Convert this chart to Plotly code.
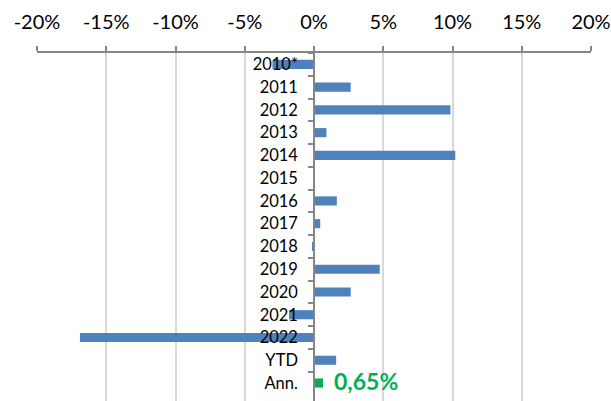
import plotly.graph_objects as go

# ---- data ----
years = ["2010*", "2011", "2012", "2013", "2014", "2015", "2016", "2017",
         "2018", "2019", "2020", "2021", "2022", "YTD"]
returns = [-3.0, 2.65, 9.85, 0.9, 10.2, 0.0, 1.65, 0.45,
           -0.12, 4.75, 2.65, -1.8, -16.9, 1.6]
ann_label = ["Ann."]
ann_value = [0.65]
x_ticks = [-20, -15, -10, -5, 0, 5, 10, 15, 20]
x_ticktext = [f"{v}%" for v in x_ticks]

categories = years + ann_label

FONT = "Lato"
BLUE = "#4f81bd"
GREEN = "#00b050"
AXIS = "#868686"
GRID = "#d9d9d9"

fig = go.Figure()
fig.add_trace(go.Bar(
    y=years, x=returns, orientation="h",
    marker=dict(color=BLUE, line=dict(width=0)),
    hoverinfo="skip", showlegend=False,
))
fig.add_trace(go.Bar(
    y=ann_label, x=ann_value, orientation="h",
    marker=dict(color=GREEN, line=dict(width=0)),
    hoverinfo="skip", showlegend=False,
))

fig.add_annotation(
    x=ann_value[0], y=ann_label[0], xref="x", yref="y",
    text=f"{ann_value[0]:.2f}%".replace(".", ","),
    showarrow=False, xanchor="left", yanchor="middle", xshift=9, yshift=2,
    font=dict(family=FONT, size=23, color=GREEN, weight="bold"),
)

fig.update_layout(
    width=611, height=401,
    margin=dict(l=37, r=20, t=53, b=0, pad=0, autoexpand=False),
    paper_bgcolor="white", plot_bgcolor="white",
    barmode="overlay", bargap=0.6,
    font=dict(family=FONT, color="black"),
    xaxis=dict(
        side="top", range=[-20, 20], tickvals=x_ticks, ticktext=x_ticktext,
        automargin=False,
        showgrid=True, gridcolor=GRID, gridwidth=2,
        zeroline=False, showline=True, linecolor=AXIS, linewidth=1.5,
        ticks="outside", ticklen=5, tickcolor=AXIS, tickwidth=1.5,
        tickfont=dict(family=FONT, size=20, color="black"),
        ticklabelstandoff=9,
        fixedrange=True,
    ),
    yaxis=dict(
        type="category", categoryorder="array", categoryarray=categories,
        autorange="reversed", automargin=False,
        anchor="free", position=0.5,
        showgrid=False, zeroline=False,
        showline=True, linecolor=AXIS, linewidth=1.5,
        ticks="outside", tickson="boundaries", ticklen=5,
        tickcolor=AXIS, tickwidth=1.5,
        tickfont=dict(family=FONT, size=16.5, color="black"),
        ticklabelstandoff=12,
        fixedrange=True,
    ),
)

fig.write_html(
    "out.html",
    config={"displayModeBar": False},
    post_script="document.body.style.margin='0';document.body.style.overflow='hidden';",
)
